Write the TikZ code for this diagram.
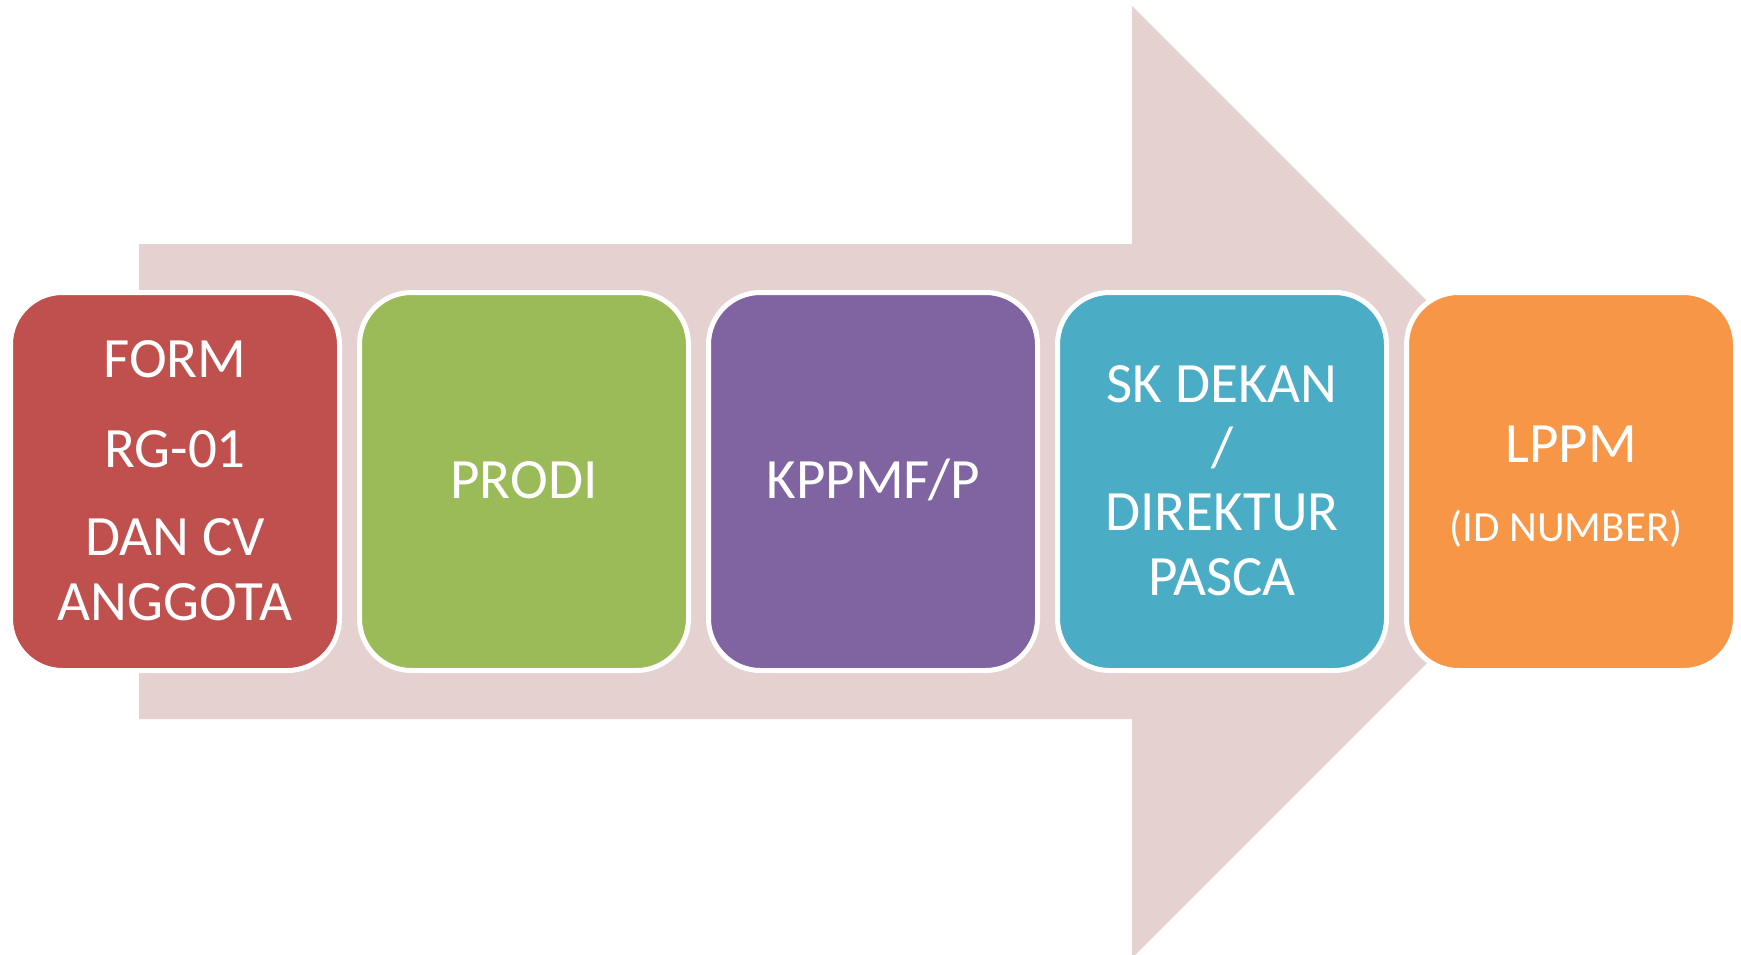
\documentclass[tikz,border=0pt]{standalone}
\usepackage{fontspec}
\setmainfont{Carlito}
\definecolor{arrowpink}{HTML}{E6D1D1}
\definecolor{cred}{HTML}{C0504D}
\definecolor{cgreen}{HTML}{9BBB59}
\definecolor{cpurple}{HTML}{8064A2}
\definecolor{ccyan}{HTML}{4BACC6}
\definecolor{corange}{HTML}{F79646}
\begin{document}
\begin{tikzpicture}[x=1pt,y=-1pt,
  stagebox/.style={draw=white,line width=5pt,rounded corners=52pt},
  big/.style={text=white,inner sep=0pt,anchor=base,font=\fontsize{57}{65}\selectfont},
  small/.style={text=white,inner sep=0pt,anchor=base,font=\fontsize{43}{50}\selectfont}]
\useasboundingbox (0,0) rectangle (1741,955);
% big arrow
\fill[arrowpink] (139,244) -- (1132,244) -- (1132,6) -- (1608,482) -- (1132,958) -- (1132,719) -- (139,719) -- cycle;
% boxes
\foreach \x/\c/\n in {13/cred/b1,362/cgreen/b2,711/cpurple/b3,1060/ccyan/b4,1409/corange/b5}{
  \filldraw[stagebox,fill=\c] (\x-2.5,292.5) rectangle (\x+326.5,670.5);
}
% texts
\node[big] (t1a) at (175,377) {FORM};
\node[big] (t1b) at (175,467) {RG-01};
\node[big] (t1c) at (175,555) {DAN CV};
\node[big] (t1d) at (175,620) {ANGGOTA};
\node[big] (t2) at (524,498) {PRODI};
\node[big] (t3) at (873,498) {KPPMF/P};
\node[big] (t4a) at (1222,402) {SK DEKAN};
\node[big] (t4b) at (1222,466) {/};
\node[big] (t4c) at (1222,530) {DIREKTUR};
\node[big] (t4d) at (1222,595) {PASCA};
\node[big] (t5a) at (1571,462) {LPPM};
\node[small] (t5b) at (1566,541) {(ID NUMBER)};
\end{tikzpicture}
\end{document}
